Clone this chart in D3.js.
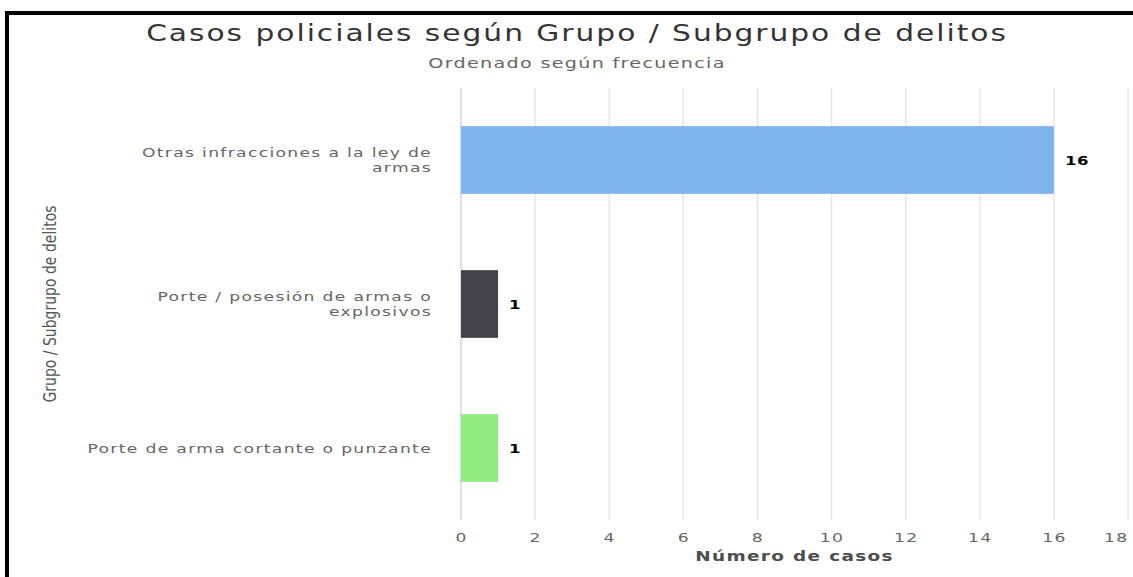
<!DOCTYPE html>
<html>
<head>
<meta charset="utf-8">
<script src="https://cdn.jsdelivr.net/npm/d3@7"></script>
<style>
  body { margin: 0; background: #fff; }
  svg { display: block; }
  text { font-family: "DejaVu Sans", Verdana, sans-serif; }
</style>
</head>
<body>
<svg width="1133" height="577"></svg>
<script>
// data
var categories = [
    ["Otras infracciones a la ley de", "armas"],
    ["Porte / posesión de armas o", "explosivos"],
    ["Porte de arma cortante o punzante"]
];
var counts = [16, 1, 1];
var colors = ["#7cb5ec", "#434348", "#90ed7d"];
var xTicks = [0, 2, 4, 6, 8, 10, 12, 14, 16, 18];

// the screenshot is stretched sideways, text gets the same stretch
var SX = 1.32;

var data = categories.map(function (c, i) {
    return {key: c.join(" "), lines: c, value: counts[i], color: colors[i]};
});

var svg = d3.select("svg"),
    margin = {top: 88, right: 5, bottom: 57, left: 461},
    width = 667,
    height = +svg.attr("height") - margin.top - margin.bottom;

// frame
svg.append("rect").attr("x", 5).attr("y", 11).attr("width", 1128).attr("height", 4).attr("fill", "#000");
svg.append("rect").attr("x", 5).attr("y", 11).attr("width", 4).attr("height", 566).attr("fill", "#000");

svg.append("g").attr("transform", "translate(577,41) scale(" + SX + ",1)")
    .append("text")
    .attr("text-anchor", "middle")
    .attr("font-size", 22.5)
    .attr("letter-spacing", "1.5px")
    .attr("fill", "#333")
    .text("Casos policiales según Grupo / Subgrupo de delitos");

svg.append("g").attr("transform", "translate(577,68) scale(" + SX + ",1)")
    .append("text")
    .attr("text-anchor", "middle")
    .attr("font-size", 14.5)
    .attr("letter-spacing", "1px")
    .attr("fill", "#666")
    .text("Ordenado según frecuencia");

var x = d3.scaleLinear().domain([0, 18]).range([0, width]),
    y = d3.scaleBand().domain(data.map(function (d) { return d.key; }))
        .range([0, height]).paddingInner(0.53).paddingOuter(0.265);

var g = svg.append("g")
    .attr("transform", "translate(" + margin.left + "," + margin.top + ")");

// grid
g.append("g")
    .selectAll("line")
    .data(xTicks)
    .enter().append("line")
    .attr("x1", function (d) { return x(d); })
    .attr("x2", function (d) { return x(d); })
    .attr("y1", 0).attr("y2", height)
    .attr("stroke", function (d) { return d === 0 ? "#ccd6eb" : "#e6e6e6"; })
    .attr("stroke-width", 1.5);

var xAxis = g.append("g")
    .attr("transform", "translate(0," + height + ")")
    .call(d3.axisBottom(x).tickValues(xTicks).tickSize(0).tickPadding(13));
xAxis.select(".domain").remove();
xAxis.selectAll("text")
    .attr("font-size", 13)
    .attr("letter-spacing", "1px")
    .attr("fill", "#666")
    .attr("transform", "scale(" + SX + ",1)")
    .attr("text-anchor", function (d) { return d === 18 ? "end" : "middle"; })
    .style("font-family", "'DejaVu Sans', sans-serif");

g.append("g").attr("transform", "translate(" + x(9) + "," + (height + 41) + ") scale(" + SX + ",1)")
    .append("text")
    .attr("text-anchor", "middle")
    .attr("font-size", 14)
    .attr("font-weight", "bold")
    .attr("letter-spacing", "1px")
    .attr("fill", "#4d4d4d")
    .text("Número de casos");

// category labels
var labels = g.append("g").selectAll("g")
    .data(data)
    .enter().append("g")
    .attr("transform", function (d) {
        return "translate(-29," + (y(d.key) + y.bandwidth() / 2) + ") scale(" + SX + ",1)";
    })
    .append("text")
    .attr("text-anchor", "end")
    .attr("font-size", 13)
    .attr("letter-spacing", "1px")
    .attr("fill", "#666");
labels.selectAll("tspan")
    .data(function (d) { return d.lines.map(function (l, i) { return {l: l, i: i, n: d.lines.length}; }); })
    .enter().append("tspan")
    .attr("x", 0)
    .attr("dy", function (t) { return t.i === 0 ? (t.n > 1 ? "-3.5px" : "4.5px") : "15px"; })
    .text(function (t) { return t.l; });

svg.append("g")
    .attr("transform", "translate(50," + (margin.top + height / 2) + ") scale(" + SX + ",1) rotate(-90)")
    .append("text")
    .attr("text-anchor", "middle")
    .attr("dy", "0.35em")
    .attr("font-size", 14)
    .attr("fill", "#555")
    .text("Grupo / Subgrupo de delitos");

g.selectAll(".bar")
    .data(data)
    .enter().append("rect")
    .attr("class", "bar")
    .attr("x", 0)
    .attr("y", function (d) { return y(d.key); })
    .attr("width", function (d) { return x(d.value); })
    .attr("height", y.bandwidth())
    .attr("fill", function (d) { return d.color; });

g.selectAll(".val")
    .data(data)
    .enter().append("g")
    .attr("transform", function (d) {
        return "translate(" + (x(d.value) + 11) + "," + (y(d.key) + y.bandwidth() / 2 + 4.5) + ") scale(" + SX + ",1)";
    })
    .append("text")
    .attr("font-size", 12.5)
    .attr("font-weight", "bold")
    .attr("letter-spacing", "0.5px")
    .attr("fill", "#000")
    .text(function (d) { return d.value; });
</script>
</body>
</html>
